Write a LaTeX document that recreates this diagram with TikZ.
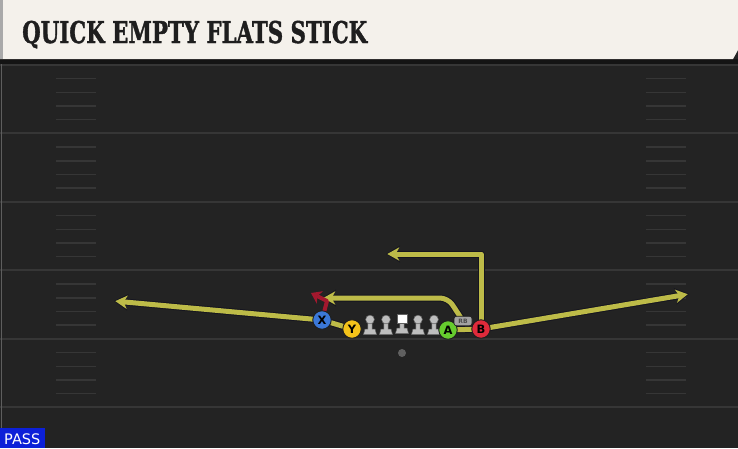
\documentclass[tikz,border=0pt]{standalone}
\usepackage{fontspec}
\usepackage{graphicx}
\usetikzlibrary{arrows.meta,backgrounds}
\newfontfamily\titlefont[BoldFeatures={FakeBold=1.5}]{DejaVu Serif}
\newfontfamily\markfont{DejaVu Sans}

\definecolor{field}{HTML}{232323}
\definecolor{yardgray}{HTML}{363636}
\definecolor{banner}{HTML}{F4F1EB}
\definecolor{bannerside}{HTML}{A9A9A9}
\definecolor{shadowband}{HTML}{141414}
\definecolor{routeyellow}{HTML}{BDBB48}
\definecolor{routeedge}{HTML}{15151F}
\definecolor{stickred}{HTML}{A3182E}
\definecolor{xblue}{HTML}{3B78D8}
\definecolor{yyellow}{HTML}{F4C31A}
\definecolor{agreen}{HTML}{66CC2E}
\definecolor{bred}{HTML}{DF2A3B}
\definecolor{ringdark}{HTML}{1E1E1E}
\definecolor{rbgray}{HTML}{A2A2A2}
\definecolor{linegray}{HTML}{BEBEBE}
\definecolor{passblue}{HTML}{0C20D8}

\tikzset{
  yardline/.style={draw=yardgray, line width=2pt},
  hashmark/.style={draw=yardgray, line width=1.6pt},
  route/.style={draw=routeedge, line width=7pt, line join=round,
    -{Stealth[length=14pt,width=17pt,inset=4pt,line width=0pt]},
    postaction={draw=routeyellow, line width=5pt, shorten >=1.3pt,
      -{Stealth[length=12pt,width=13.5pt,inset=3.5pt,line width=0pt]}}},
  stick/.style={draw=stickred, line width=4pt, line join=round,
    -{Stealth[length=10pt,width=14pt,inset=3pt,line width=0pt]}},
  player/.style={circle, draw=ringdark, line width=0.9pt, minimum size=18.5pt,
    inner sep=0pt, text=black, font=\markfont\bfseries\fontsize{11.5}{11.5}\selectfont},
  rbtag/.style={rectangle, rounded corners=2.5pt, fill=rbgray, draw=ringdark,
    line width=0.6pt, minimum width=18pt, minimum height=9.5pt, inner sep=0pt,
    text=ringdark!80, font=\markfont\bfseries\fontsize{6}{6}\selectfont},
  lineman/.pic={
    \fill[linegray, draw=ringdark!70, line width=0.5pt]
      (-6.5,19.5) -- (-5,14) -- (-2.2,14) -- (-2.2,6) -- (2.2,6) -- (2.2,14) -- (5,14) -- (6.5,19.5) -- cycle;
    \fill[linegray, draw=ringdark!70, line width=0.5pt] (0,4.5) circle (4.4);
  },
  snapper/.pic={
    \fill[linegray, draw=ringdark!70, line width=0.5pt]
      (-6.5,19.5) -- (-5,14) -- (-2.2,14) -- (-2.2,8) -- (2.2,8) -- (2.2,14) -- (5,14) -- (6.5,19.5) -- cycle;
    \fill[white, draw=ringdark!70, line width=0.5pt] (-5,0) rectangle (5,9);
  },
}

\begin{document}
\begin{tikzpicture}[x=1pt,y=-1pt]
  \useasboundingbox (0,0) rectangle (738,448);

  \begin{scope}[on background layer]
    \fill[field] (0,0) rectangle (738,448);

    %% field lines
    \foreach \y in {64.5,133,201.5,270,338.5,407}
      \draw[yardline] (0,\y) -- (738,\y);
    \foreach \k in {0,...,4}
      \foreach \d in {14,28,41.5,55} {
        \draw[hashmark] (56,{64.5+68.5*\k+\d}) -- (96,{64.5+68.5*\k+\d});
        \draw[hashmark] (646,{64.5+68.5*\k+\d}) -- (686,{64.5+68.5*\k+\d});
      }
    \draw[yardgray!80, line width=1.5pt] (1.5,64) -- (1.5,448);

    %% banner
    \fill[shadowband] (0,59) rectangle (738,64);
    \fill[banner] (0,0) -- (738,0) -- (738,50) -- (733,59) -- (0,59) -- cycle;
    \fill[bannerside] (0,0) rectangle (3,59);
  \end{scope}

  \node[anchor=base west, inner sep=0pt, text=ringdark] (title) at (22,43)
    {\scalebox{0.71}[1]{\titlefont\bfseries\fontsize{30}{30}\selectfont QUICK EMPTY FLATS STICK}};

  %% formation
  \node[player, fill=xblue] (X) at (322,320) {X};
  \node[player, fill=yyellow] (Y) at (352,329) {Y};
  \pic (lt) at (370,315) {lineman};
  \pic (lg) at (386,315) {lineman};
  \pic (c) at (402,314) {snapper};
  \pic (rg) at (418,315) {lineman};
  \pic (rt) at (434,315) {lineman};
  \node[player, fill=agreen] (A) at (448,330) {A};
  \node[player, fill=bred] (B) at (481,329) {B};
  \node[rbtag] (RB) at (463,321) {RB};
  \node[circle, fill=gray!75!black, inner sep=0pt, minimum size=8pt] (QB) at (402,353) {};

  %% route ends
  \coordinate (flatL) at (114,301);
  \coordinate (flatR) at (689,294);
  \coordinate (stickUp) at (327,301);
  \coordinate (stickEnd) at (311,293);
  \coordinate (rbBend) at (448,298);
  \coordinate (rbEnd) at (322,298);
  \coordinate (bTop) at (481,254);
  \coordinate (bEnd) at (386,254);

  \begin{scope}[on background layer]
    %% Y flat
    \draw[route] (Y.center) -- (X.center) -- (flatL);
    %% A flat
    \draw[route] (A.center) -- (B.center) -- (flatR);
    %% RB drag
    \draw[route, rounded corners=8pt] (RB.center) -- (rbBend) -- (rbEnd);
    %% B stick
    \draw[route] (B.center) -- (bTop) -- (bEnd);
    %% X hitch
    \draw[stick] (X.center) -- (stickUp) -- (stickEnd);
  \end{scope}

  %% play type
  \fill[passblue] (0,428) rectangle (45,448);
  \node[anchor=base west, inner sep=0pt, text=white,
    font=\markfont\fontsize{14.5}{14.5}\selectfont] (pass) at (4,444) {PASS};

\end{tikzpicture}
\end{document}
